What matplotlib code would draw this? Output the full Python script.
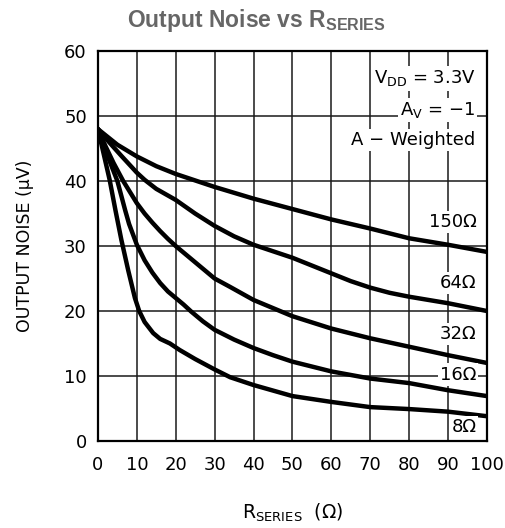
import matplotlib
matplotlib.use("Agg")
import matplotlib.pyplot as plt

plt.rcParams["font.family"] = ["DejaVu Sans"]
plt.rcParams["mathtext.fontset"] = "custom"
plt.rcParams["mathtext.rm"] = "DejaVu Sans"
plt.rcParams["mathtext.bf"] = "Liberation Sans:bold"

# output noise (uV) vs R_SERIES (ohm), one curve per load
x_150 = [0, 5, 10, 15, 20, 25, 30, 40, 50, 60, 70, 80, 90, 100]
n_150 = [48, 45.6, 43.8, 42.3, 41.1, 40.1, 39.1, 37.3, 35.7, 34.1, 32.7, 31.2, 30.2, 29.1]

x_64 = [0, 3, 6, 10, 12, 15, 20, 25, 30, 35, 40, 45, 50, 55, 60, 65, 70, 75, 80, 85, 90, 95, 100]
n_64 = [48, 45.9, 43.9, 41.3, 40.2, 38.8, 37.1, 35.0, 33.1, 31.5, 30.2, 29.2, 28.2, 27.0,
        25.8, 24.6, 23.6, 22.8, 22.2, 21.7, 21.2, 20.6, 20.0]

x_32 = [0, 2, 4, 6.5, 10, 12, 14, 16, 18, 20, 25, 30, 34, 40, 50, 60, 70, 80, 90, 100]
n_32 = [48, 45.3, 42.8, 40, 36.6, 35.0, 33.6, 32.3, 31.1, 30.0, 27.5, 25.0, 23.7, 21.7,
        19.2, 17.3, 15.8, 14.5, 13.2, 12.0]

x_16 = [0, 2, 5, 7, 8, 10, 12, 14, 16, 18, 20, 22, 24, 27, 30, 35, 40, 45, 50, 60, 70, 80, 90, 100]
n_16 = [48, 44.6, 40, 35.5, 33.4, 30.2, 27.8, 25.9, 24.3, 23.0, 22.0, 21.0, 19.9, 18.4,
        17.1, 15.6, 14.3, 13.2, 12.2, 10.7, 9.6, 8.9, 7.8, 6.9]

x_8 = [0, 3, 4.5, 6, 7.8, 9.5, 10.6, 12, 14.2, 16, 18.5, 21, 25, 30, 34, 40, 50, 60, 70, 80, 90, 100]
n_8 = [48, 40.2, 35.5, 31, 26.2, 22, 20, 18.3, 16.6, 15.7, 15, 14, 12.6, 11, 9.8, 8.6,
       6.9, 6.0, 5.2, 4.9, 4.5, 3.8]

curves = [(x_150, n_150), (x_64, n_64), (x_32, n_32), (x_16, n_16), (x_8, n_8)]
curve_labels = ["150Ω", "64Ω", "32Ω", "16Ω", "8Ω"]
label_y = [33.7, 24.3, 16.5, 10.2, 2.1]

fig = plt.figure(figsize=(5.05, 5.28), dpi=100)
ax = fig.add_axes([0.194, 0.165, 0.770, 0.738])

for xs, ys in curves:
    ax.plot(xs, ys, color="black", lw=3.2, solid_joinstyle="round",
            solid_capstyle="round", zorder=3)

box = dict(facecolor="white", edgecolor="none", pad=1.5)
for lab, y in zip(curve_labels, label_y):
    ax.text(97.3, y, lab, ha="right", va="center", fontsize=13, bbox=box, zorder=4)

ax.text(97.0, 55.8, r"V$_{\mathrm{DD}}$ = 3.3V", ha="right", va="center",
        fontsize=13, bbox=box, zorder=4)
ax.text(97.0, 50.9, r"A$_{\mathrm{V}}$ = $-$1", ha="right", va="center",
        fontsize=13, bbox=box, zorder=4)
ax.text(97.0, 46.3, "A − Weighted", ha="right", va="center",
        fontsize=13, bbox=box, zorder=4)

ax.set_xlim(0, 100)
ax.set_ylim(0, 60)
ax.set_xticks(range(0, 101, 10))
ax.set_yticks(range(0, 61, 10))
ax.grid(True, color="#1a1a1a", lw=1.1, zorder=1)
ax.set_axisbelow(True)
ax.tick_params(length=0, labelsize=13, pad=8)
ax.tick_params(axis="x", pad=11)
for s in ax.spines.values():
    s.set_linewidth(1.6)

ax.set_xlabel(r"R$_{\mathrm{SERIES}}$  (Ω)", fontsize=13.5, labelpad=20)
ax.set_ylabel("OUTPUT NOISE (μV)", fontsize=12.5, labelpad=22)

fig.text(0.507, 0.962, r"Output Noise vs $\mathbf{R_{SERIES}}$", ha="center",
         va="center", fontsize=16.5, fontweight="bold", family="Liberation Sans",
         color="#666666")

plt.savefig("out.png", dpi=100)
